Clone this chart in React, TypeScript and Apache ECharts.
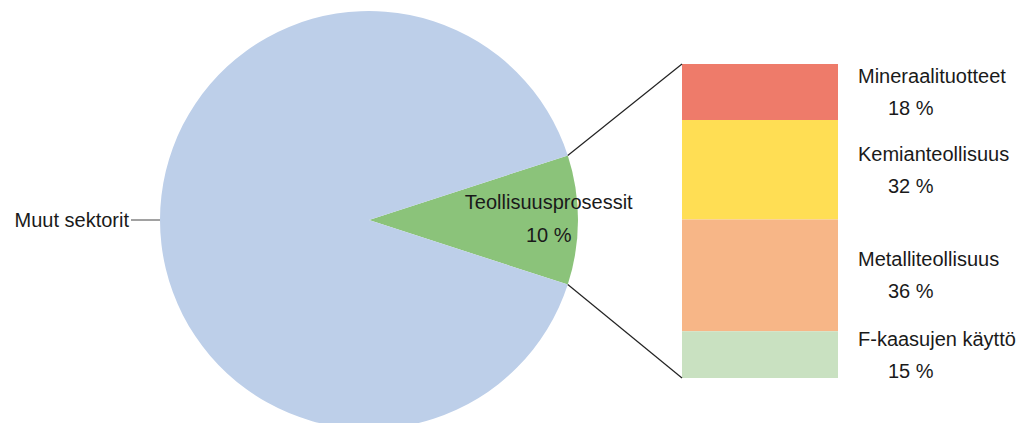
import React, { useEffect, useRef } from "react";
import * as echarts from "echarts";

const pieNames = ["Teollisuusprosessit", "Muut sektorit"];
const pieValues = [10, 90];
const pieColors = ["#8BC37A", "#BDCFE9"];

const barNames = ["Mineraalituotteet", "Kemianteollisuus", "Metalliteollisuus", "F-kaasujen käyttö"];
const barValues = [18, 32, 36, 15];
const barColors = ["#EE7B6A", "#FFDE54", "#F7B687", "#C9E1C1"];

const FONT = "'Liberation Sans', Arial, sans-serif";
const TEXT = "#1a1a1a";

export default function App() {
  const ref = useRef<HTMLDivElement>(null);

  useEffect(() => {
    if (!ref.current) return;
    const chart = echarts.init(ref.current, null, { renderer: "svg" });

    const cx = 369;
    const cy = 220;
    const r = 209;
    const half = (pieValues[0] / (pieValues[0] + pieValues[1])) * 180; // degrees
    const gLeft = 682;
    const gTop = 64;
    const gWidth = 156;
    const gHeight = 314;

    const rad = (half * Math.PI) / 180;
    const ex = cx + r * Math.cos(rad);
    const eyTop = cy - r * Math.sin(rad);
    const eyBot = cy + r * Math.sin(rad);

    const total = barValues.reduce((a, b) => a + b, 0);

    const option: any = {
      animation: false,
      textStyle: { fontFamily: FONT },
      grid: { left: gLeft, top: gTop, width: gWidth, height: gHeight, containLabel: false },
      xAxis: { type: "category", data: ["x"], show: false },
      yAxis: { type: "value", min: 0, max: total, inverse: true, show: false },
      series: [
        {
          type: "pie",
          center: [cx, cy],
          radius: r,
          startAngle: half,
          clockwise: true,
          silent: true,
          data: pieNames.map((n, i) => ({
            name: n,
            value: pieValues[i],
            itemStyle: { color: pieColors[i] },
            label:
              i === 0
                ? {
                    show: true,
                    position: "inside",
                    formatter: "{b}\n{c} %",
                    fontSize: 20,
                    lineHeight: 33,
                    color: TEXT,
                    fontFamily: FONT,
                    align: "center",
                  }
                : {
                    show: true,
                    position: "outside",
                    formatter: "{b}",
                    fontSize: 20,
                    color: TEXT,
                    fontFamily: FONT,
                    distanceToLabelLine: 2,
                  },
            labelLine:
              i === 1
                ? { show: true, length: 15, length2: 14, lineStyle: { color: "#444", width: 1 } }
                : { show: false },
          })),
          labelLayout: (params: any) => {
            if (params.dataIndex === 0) {
              return { x: cx + r * 0.86, y: cy - 2, align: "center", verticalAlign: "middle" };
            }
            return {};
          },
        },
        ...barNames.map((n, i) => ({
          type: "bar",
          name: n,
          stack: "total",
          barWidth: "100%",
          silent: true,
          itemStyle: { color: barColors[i] },
          label: {
            show: true,
            position: "right",
            distance: 20,
            formatter: `{n|${n}}\n{p|${barValues[i]} %}`,
            rich: {
              n: { fontSize: 20, lineHeight: 32, color: TEXT, fontFamily: FONT },
              p: { fontSize: 20, lineHeight: 32, color: TEXT, fontFamily: FONT, padding: [0, 0, 0, 30] },
            },
          },
          data: [barValues[i]],
        })),
      ],
      graphic: [
        {
          type: "line",
          shape: { x1: ex, y1: eyTop, x2: gLeft, y2: gTop },
          style: { stroke: "#222", lineWidth: 1.2 },
          z: 10,
        },
        {
          type: "line",
          shape: { x1: ex, y1: eyBot, x2: gLeft, y2: gTop + gHeight },
          style: { stroke: "#222", lineWidth: 1.2 },
          z: 10,
        },
      ],
    };

    chart.setOption(option);
    return () => chart.dispose();
  }, []);

  return (
    <div
      ref={ref}
      style={{ position: "absolute", left: 0, top: 0, width: 1018, height: 423, background: "#fff" }}
    />
  );
}
